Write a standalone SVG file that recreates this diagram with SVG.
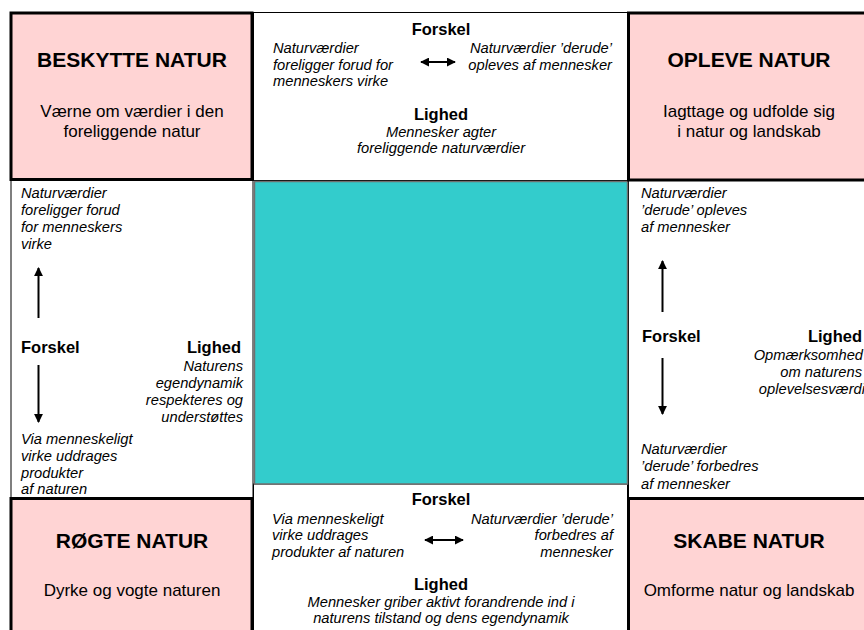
<svg xmlns="http://www.w3.org/2000/svg" width="864" height="630" viewBox="0 0 864 630">
<defs>
<style>
.pink{fill:#FFD4D4;stroke:#000;stroke-width:3}
.white{fill:#fff;stroke:#000;stroke-width:1}
.cyan{fill:#33CCCC;stroke:#707070;stroke-width:1.5}
text{font-family:"Liberation Sans",Arial,sans-serif;fill:#000}
.title{font-size:21px;font-weight:bold;text-anchor:middle}
.sub{font-size:17px;text-anchor:middle}
.hd{font-size:16.5px;font-weight:bold}
.it{font-size:14.7px;font-style:italic}
.c{text-anchor:middle}
.r{text-anchor:end}
.arr{stroke:#000;stroke-width:2;fill:none}
</style>
<marker id="ah" viewBox="0 0 10 10" refX="9" refY="5" markerWidth="9" markerHeight="9" markerUnits="userSpaceOnUse" orient="auto-start-reverse">
<path d="M0,0 L10,5 L0,10 Z" fill="#000"/>
</marker>
</defs>
<rect width="864" height="630" fill="#fff"/>

<g id="top-middle">
<rect class="white" x="253.5" y="12.5" width="374" height="168"/>
<text class="hd c" x="441" y="35">Forskel</text>
<text class="it" x="273" y="53">Naturværdier</text>
<text class="it" x="273" y="70">foreligger forud for</text>
<text class="it" x="273" y="86">menneskers virke</text>
<text class="it r" x="612" y="53">Naturværdier ’derude’</text>
<text class="it r" x="612" y="70">opleves af mennesker</text>
<text class="hd c" x="441" y="120">Lighed</text>
<text class="it c" x="441" y="137">Mennesker agter</text>
<text class="it c" x="441" y="153">foreliggende naturværdier</text>
</g>

<g id="left-column">
<rect class="white" x="11" y="180" width="242" height="318"/>
<text class="it" x="21" y="198">Naturværdier</text>
<text class="it" x="21" y="215">foreligger forud</text>
<text class="it" x="21" y="232">for menneskers</text>
<text class="it" x="21" y="249">virke</text>
<text class="hd" x="21" y="353">Forskel</text>
<text class="hd r" x="241" y="353">Lighed</text>
<text class="it r" x="243" y="371">Naturens</text>
<text class="it r" x="243" y="388">egendynamik</text>
<text class="it r" x="243" y="405">respekteres og</text>
<text class="it r" x="243" y="422">understøttes</text>
<text class="it" x="21" y="444">Via menneskeligt</text>
<text class="it" x="21" y="461">virke uddrages</text>
<text class="it" x="21" y="478">produkter</text>
<text class="it" x="21" y="494">af naturen</text>
</g>

<g id="right-column">
<rect class="white" x="628.5" y="180" width="240" height="318"/>
<text class="it" x="641" y="198">Naturværdier</text>
<text class="it" x="641" y="215">’derude’ opleves</text>
<text class="it" x="641" y="232">af mennesker</text>
<text class="hd" x="642" y="342">Forskel</text>
<text class="hd r" x="862" y="342">Lighed</text>
<text class="it r" x="863" y="360">Opmærksomhed</text>
<text class="it r" x="862" y="377">om naturens</text>
<text class="it r" x="865" y="394">oplevelsesværdi</text>
<text class="it" x="641" y="454">Naturværdier</text>
<text class="it" x="641" y="471">’derude’ forbedres</text>
<text class="it" x="641" y="489">af mennesker</text>
</g>

<g id="bottom-middle">
<rect class="white" x="253.5" y="484" width="374" height="160"/>
<text class="hd c" x="441" y="505">Forskel</text>
<text class="it" x="272" y="524">Via menneskeligt</text>
<text class="it" x="272" y="540">virke uddrages</text>
<text class="it" x="272" y="557">produkter af naturen</text>
<text class="it r" x="613" y="524">Naturværdier ’derude’</text>
<text class="it r" x="613" y="540">forbedres af</text>
<text class="it r" x="613" y="557">mennesker</text>
<text class="hd c" x="441" y="590">Lighed</text>
<text class="it c" x="441" y="607">Mennesker griber aktivt forandrende ind i</text>
<text class="it c" x="441" y="623">naturens tilstand og dens egendynamik</text>
</g>

<g id="center">
<rect class="cyan" x="254.5" y="181.5" width="373" height="302.5"/>
</g>

<g id="beskytte-natur">
<rect class="pink" x="11" y="13" width="241" height="166.5"/>
<text class="title" x="132" y="67">BESKYTTE NATUR</text>
<text class="sub" x="132" y="117">Værne om værdier i den</text>
<text class="sub" x="132" y="137">foreliggende natur</text>
</g>

<g id="opleve-natur">
<rect class="pink" x="628.5" y="13" width="241" height="167"/>
<text class="title" x="749" y="67">OPLEVE NATUR</text>
<text class="sub" x="749" y="117">Iagttage og udfolde sig</text>
<text class="sub" x="749" y="137">i natur og landskab</text>
</g>

<g id="roegte-natur">
<rect class="pink" x="11" y="498.5" width="241" height="150"/>
<text class="title" x="132" y="548">RØGTE NATUR</text>
<text class="sub" x="132" y="596">Dyrke og vogte naturen</text>
</g>

<g id="skabe-natur">
<rect class="pink" x="628.5" y="498.5" width="241" height="150"/>
<text class="title" x="749" y="548">SKABE NATUR</text>
<text class="sub" x="749" y="596">Omforme natur og landskab</text>
</g>

<g id="connectors">
<line class="arr" x1="421" y1="62" x2="455" y2="62" marker-start="url(#ah)" marker-end="url(#ah)"/>
<line class="arr" x1="38.5" y1="318" x2="38.5" y2="268" marker-end="url(#ah)"/>
<line class="arr" x1="38.5" y1="365" x2="38.5" y2="422" marker-end="url(#ah)"/>
<line class="arr" x1="662.5" y1="312" x2="662.5" y2="261" marker-end="url(#ah)"/>
<line class="arr" x1="662.5" y1="358" x2="662.5" y2="414" marker-end="url(#ah)"/>
<line class="arr" x1="425" y1="540" x2="463" y2="540" marker-start="url(#ah)" marker-end="url(#ah)"/>
</g>
</svg>
